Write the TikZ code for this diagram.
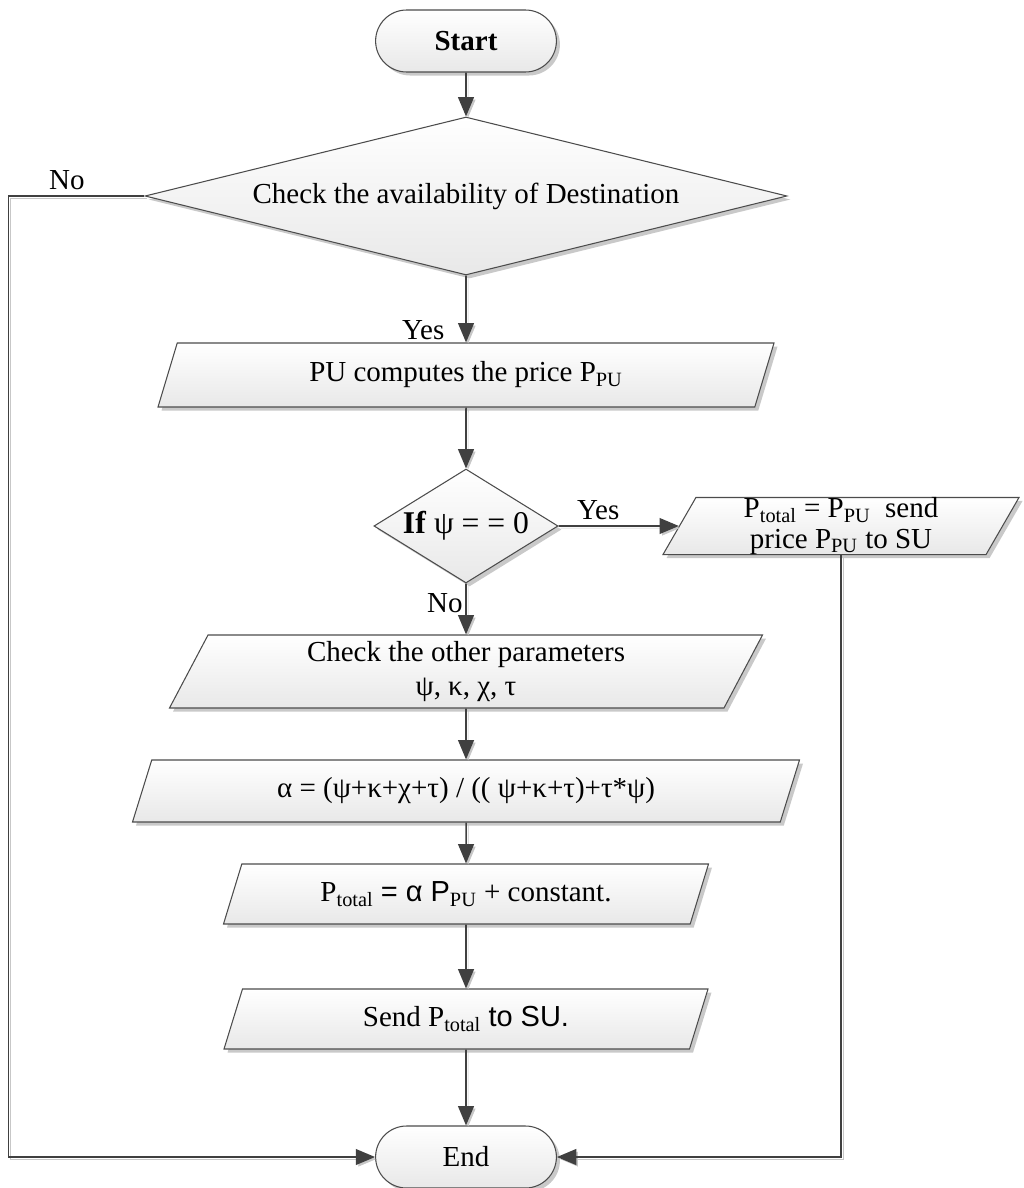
\documentclass[tikz,border=0pt]{standalone}
\usepackage{fontspec}
\setmainfont{Liberation Serif}
\setsansfont{Liberation Sans}
\usepackage{tikz}
\usetikzlibrary{positioning,shapes.geometric,shapes.misc,shadows,arrows.meta}

\newcommand{\Psub}[1]{P\textsubscript{#1}}

\begin{document}
\begin{tikzpicture}[node distance=3cm,
  font=\fontsize{16.5pt}{19pt}\selectfont,
  box/.style={draw=black!70,line width=0.6pt,top color=white,bottom color=black!9,
    drop shadow={shadow xshift=2pt,shadow yshift=-2pt,fill=black!30,opacity=0.7}},
  term/.style={box,rounded rectangle,minimum width=3.85cm,minimum height=1.24cm},
  decision/.style={box,diamond,inner sep=0pt},
  io/.style={box,trapezium,trapezium left angle=60,trapezium right angle=120,
    trapezium stretches body,align=center,inner sep=2pt},
  line/.style={draw=black!75,line width=0.9pt,-{Triangle[length=11pt,width=9pt]},
    preaction={draw=black!22,transform canvas={shift={(1.2pt,-1.2pt)}}}}]

  \useasboundingbox (0,0) rectangle (20.46,-23.76);

  \node[term] (start) at (9.32,-0.82) {\textbf{Start}};
  \node[decision,minimum width=12.84cm,minimum height=3.16cm,aspect=4] (chkdest) [below of=start,node distance=3.1cm] {Check the availability of Destination};
  \node[io,minimum width=12.32cm,minimum height=1.28cm] (price) [below of=chkdest,node distance=3.58cm] {PU computes the price \Psub{PU}};
  \node[decision,minimum width=3.66cm,minimum height=2.28cm,aspect=2,font=\fontsize{18pt}{20pt}\selectfont] (ifpsi) [below of=price,node distance=3.02cm] {\textbf{If} ψ = = 0};
  \node[io,minimum width=7.12cm,minimum height=1.12cm,inner sep=0pt,font=\fontsize{16.5pt}{17.5pt}\selectfont] (sendpu) [right of=ifpsi,node distance=7.5cm] {\Psub{total} = \Psub{PU}~~send\\price \Psub{PU} to SU};
  \node[io,minimum width=11.86cm,minimum height=1.46cm] (params) [below of=ifpsi,node distance=2.91cm] {Check the other parameters\\ψ, κ, χ, τ};
  \node[io,minimum width=13.34cm,minimum height=1.24cm] (alpha) [below of=params,node distance=2.39cm] {α = (ψ+κ+χ+τ) / (( ψ+κ+τ)+τ*ψ)};
  \node[io,minimum width=9.7cm,minimum height=1.2cm] (ptotal) [below of=alpha,node distance=2.06cm] {\Psub{total} \textsf{= α P}\textsubscript{PU} + constant.};
  \node[io,minimum width=9.68cm,minimum height=1.2cm] (sendtot) [below of=ptotal,node distance=2.5cm] {Send \Psub{total} \textsf{to SU.}};
  \node[term] (end) [below of=sendtot,node distance=2.76cm] {End};

  \path (start) edge[line] (chkdest)
        (chkdest) edge[line] node[left,pos=0.81,xshift=-0.3cm] {Yes} (price)
        (price) edge[line] (ifpsi)
        (ifpsi) edge[line] node[above,pos=0.33] {Yes} (sendpu)
                edge[line] node[left,pos=0.38,inner sep=1.5pt] {No} (params)
        (params) edge[line] (alpha)
        (alpha) edge[line] (ptotal)
        (ptotal) edge[line] (sendtot)
        (sendtot) edge[line] (end);

  % the two routes into End
  \draw[line] (chkdest.west) -- node[above,pos=0.57] {No} ++(-2.72,0) |- (end.west);
  \draw[line] (sendpu.south) |- (end.east);

\end{tikzpicture}
\end{document}
